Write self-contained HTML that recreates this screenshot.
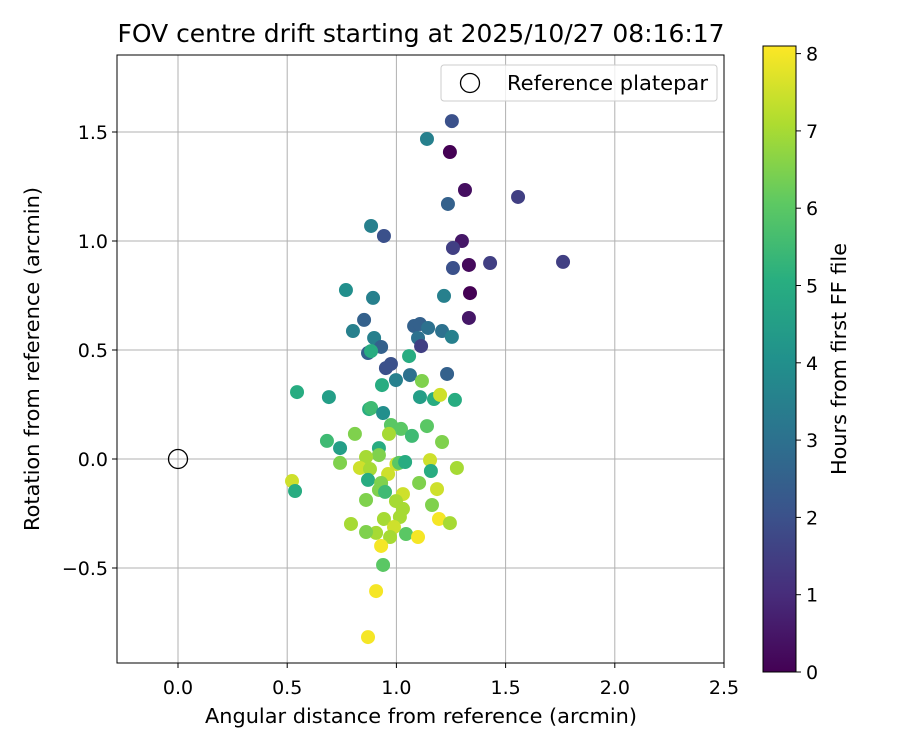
<!DOCTYPE html>
<html><head><meta charset="utf-8"><style>
body{margin:0;background:#fff;}
svg text{font-family:"DejaVu Sans","Liberation Sans",sans-serif;fill:#000;}
</style></head><body>
<svg id="chart" width="900" height="750" viewBox="0 0 900 750" xmlns="http://www.w3.org/2000/svg">
<defs><linearGradient id="vir" x1="0" y1="1" x2="0" y2="0">
<stop offset="0" stop-color="#440154"/><stop offset="0.125" stop-color="#472d7b"/><stop offset="0.25" stop-color="#3b528b"/><stop offset="0.375" stop-color="#2c728e"/><stop offset="0.5" stop-color="#21918c"/><stop offset="0.625" stop-color="#28ae80"/><stop offset="0.75" stop-color="#5ec962"/><stop offset="0.875" stop-color="#addc30"/><stop offset="1" stop-color="#fde725"/></linearGradient></defs>
<text x="421" y="42" font-size="24.5" text-anchor="middle" textLength="607" lengthAdjust="spacingAndGlyphs">FOV centre drift starting at 2025/10/27 08:16:17</text>
<g id="grid"></g><g id="pts"></g><g id="axes"></g>
<text x="421" y="723" font-size="20.5" text-anchor="middle" textLength="432" lengthAdjust="spacingAndGlyphs">Angular distance from reference (arcmin)</text>
<text transform="translate(39,359) rotate(-90)" font-size="20.5" text-anchor="middle" textLength="344" lengthAdjust="spacingAndGlyphs">Rotation from reference (arcmin)</text>
<g>
<rect x="441" y="65" width="276" height="36" rx="3" fill="#fff" fill-opacity="0.8" stroke="#ccc"/>
<circle cx="470" cy="83" r="9.5" fill="none" stroke="#000" stroke-width="1.3"/>
<text x="507" y="90" font-size="20" textLength="201" lengthAdjust="spacingAndGlyphs">Reference platepar</text>
</g>
<g>
<rect x="763" y="46" width="33" height="626" fill="url(#vir)" stroke="#000" stroke-width="1"/>
<g id="cbt"></g>
<text transform="translate(846,359) rotate(-90)" font-size="20" text-anchor="middle" textLength="232" lengthAdjust="spacingAndGlyphs">Hours from first FF file</text>
</g>
</svg>
<script>
const xs=[1.254,1.14,1.245,1.314,1.557,1.236,0.884,0.943,1.30,1.259,1.332,1.429,1.763,1.259,1.337,0.769,0.893,1.218,1.332,0.852,1.081,1.108,1.145,1.209,0.801,0.898,1.099,1.254,1.113,0.93,0.87,0.884,0.975,0.952,1.058,1.232,1.062,0.998,1.117,0.934,0.545,0.691,1.108,1.172,1.2,1.268,0.875,0.884,0.939,0.975,1.14,1.021,0.966,0.81,1.071,1.209,0.682,0.742,0.92,0.92,0.861,0.742,1.0,1.012,1.04,1.154,0.833,0.879,1.277,1.158,0.522,0.962,0.87,0.93,1.104,0.92,0.948,1.186,0.536,1.03,0.861,0.998,1.163,1.03,1.016,0.943,0.792,1.195,1.245,0.989,0.907,0.861,1.044,0.971,1.099,0.93,0.939,0.907,0.87];
const ys=[1.55,1.468,1.408,1.234,1.202,1.17,1.069,1.023,1.0,0.968,0.89,0.899,0.904,0.876,0.761,0.775,0.739,0.748,0.647,0.638,0.61,0.619,0.601,0.587,0.587,0.555,0.555,0.56,0.518,0.514,0.486,0.495,0.436,0.417,0.472,0.39,0.385,0.362,0.358,0.339,0.307,0.284,0.284,0.275,0.294,0.271,0.229,0.234,0.211,0.156,0.151,0.138,0.115,0.115,0.106,0.078,0.083,0.05,0.05,0.018,0.009,-0.018,-0.023,-0.018,-0.014,-0.005,-0.041,-0.046,-0.041,-0.055,-0.101,-0.069,-0.096,-0.11,-0.11,-0.142,-0.151,-0.138,-0.147,-0.161,-0.188,-0.193,-0.211,-0.229,-0.266,-0.275,-0.298,-0.275,-0.294,-0.312,-0.339,-0.335,-0.344,-0.358,-0.358,-0.399,-0.486,-0.606,-0.817];
const hours=[2,3.5,0,0.3,1.5,2.5,3.5,2,0.5,1.5,0.2,1.5,1.5,2,0,4,3.5,3.5,0.5,2.5,2.5,2.5,3,3,3.5,3.5,3,3.5,1.5,2.5,2.5,5,2,2,5,2.5,3,3.5,6.5,5,5,4.5,4.5,5,7.5,5,5,5.5,4,6,6,6,7,6.5,5.5,6.5,5.5,4.5,5,6.5,7,6.5,7.5,6,5,7.5,7.5,7,7,5,7.5,7.5,5,6.5,6.5,6.5,5.5,7.5,5,7.5,6.5,7,6.5,7,7,7,7,8,7,7.5,7,6.5,6,7,8,8,6,8,8];
const xTicks=[0,0.5,1,1.5,2,2.5], xTickLabels=["0.0","0.5","1.0","1.5","2.0","2.5"];
const yTicks=[-0.5,0,0.5,1,1.5], yTickLabels=["\u22120.5","0.0","0.5","1.0","1.5"];
const cTicks=[0,1,2,3,4,5,6,7,8];
const NS="http://www.w3.org/2000/svg";
const L=117,R=724,T=55,B=663;
const X=v=>178+v*218.4, Y=v=>459-v*218, C=v=>672-v*77.3;
const stops=["#440154","#472d7b","#3b528b","#2c728e","#21918c","#28ae80","#5ec962","#addc30","#fde725"];
function hex(h){return [1,3,5].map(i=>parseInt(h.substr(i,2),16));}
function vir(t){t=Math.max(0,Math.min(1,t))*8;const i=Math.min(7,Math.floor(t)),f=t-i;const a=hex(stops[i]),b=hex(stops[i+1]);return "rgb("+a.map((c,k)=>Math.round(c+(b[k]-c)*f)).join(",")+")";}
function mk(tag,attrs,parent){const e=document.createElementNS(NS,tag);for(const k in attrs)e.setAttribute(k,attrs[k]);parent.appendChild(e);return e;}
const grid=document.getElementById('grid'),axes=document.getElementById('axes'),pts=document.getElementById('pts'),cbt=document.getElementById('cbt');
xTicks.forEach((v,i)=>{
 const g=mk('line',{x1:X(v),x2:X(v),y1:T,y2:B,stroke:'#b0b0b0','stroke-width':1},grid);
 
 
 mk('line',{x1:X(v),x2:X(v),y1:B,y2:B+5,stroke:'#000'},axes);
 const t=mk('text',{x:X(v),y:B+31,'font-size':19,'text-anchor':'middle'},axes);t.textContent=xTickLabels[i];
 
 
});
yTicks.forEach((v,i)=>{
 const g=mk('line',{x1:L,x2:R,y1:Y(v),y2:Y(v),stroke:'#b0b0b0','stroke-width':1},grid);
 
 
 mk('line',{x1:L-5,x2:L,y1:Y(v),y2:Y(v),stroke:'#000'},axes);
 const t=mk('text',{x:L-9,y:Y(v)+7,'font-size':19,'text-anchor':'end'},axes);t.textContent=yTickLabels[i];
 
 
});
const fr=mk('rect',{x:L,y:T,width:R-L,height:B-T,fill:'none',stroke:'#000','stroke-width':1},axes);


xs.forEach((x,i)=>{
 const c=mk('circle',{cx:X(x),cy:Y(ys[i]),r:7,fill:vir(hours[i]/8.1)},pts);
 
 
});
const ref=mk('circle',{cx:X(0),cy:Y(0),r:9.5,fill:'none',stroke:'#000','stroke-width':1.3},pts);


cTicks.forEach(v=>{
 mk('line',{x1:796,x2:801,y1:C(v),y2:C(v),stroke:'#000'},cbt);
 const t=mk('text',{x:806,y:C(v)+7,'font-size':19},cbt);t.textContent=v;
 
 
});
</script>
</body></html>
